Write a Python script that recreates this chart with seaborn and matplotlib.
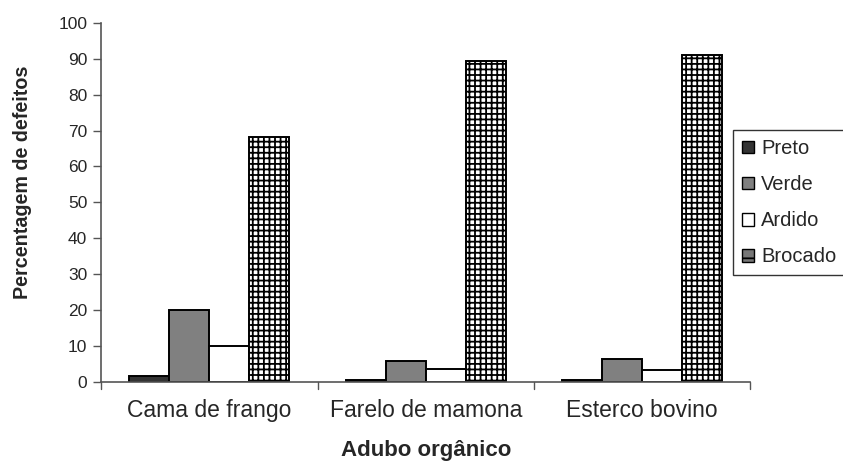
import matplotlib
matplotlib.use('Agg')
import matplotlib.pyplot as plt
from matplotlib.patches import Patch
import seaborn as sns
import pandas as pd

# Dados (percentagem de defeitos por adubo orgânico)
adubos = ['Cama de frango', 'Farelo de mamona', 'Esterco bovino']
defeitos = ['Preto', 'Verde', 'Ardido', 'Brocado']
preto = [1.6, 0.5, 0.5]
verde = [20.0, 5.8, 6.3]
ardido = [10.1, 3.7, 3.2]
brocado = [68.3, 89.5, 91.0]

cores = ['#333333', '#808080', '#ffffff', '#ffffff']

df = pd.DataFrame({
    'Adubo': adubos * 4,
    'Defeito': [d for d in defeitos for _ in adubos],
    'Valor': preto + verde + ardido + brocado,
})

sns.set_style('white')
plt.rcParams['font.family'] = ['Liberation Sans', 'DejaVu Sans']
plt.rcParams['hatch.linewidth'] = 1.3

fig = plt.figure(figsize=(8.43, 4.75), dpi=100)
ax = fig.add_axes([0.12, 0.196, 0.77, 0.756])

sns.barplot(data=df, x='Adubo', y='Valor', hue='Defeito', order=adubos,
            hue_order=defeitos, palette=cores, width=0.74, edgecolor='black',
            linewidth=1.4, saturation=1, ax=ax, legend=False)

# hachura quadriculada para Brocado
for barra in ax.containers[3]:
    barra.set_hatch('+++')

ax.set_ylim(0, 100)
ax.set_xlim(-0.5, 2.5)
ax.set_yticks(range(0, 101, 10))
ax.tick_params(axis='y', direction='out', length=6, width=1, color='#555555',
               labelsize=12.5, left=True, pad=4)
ax.tick_params(axis='x', length=0, labelsize=16.5, pad=12)
ax.set_xticks([0, 1, 2])
ax.set_xticklabels(adubos)
# ticks separadores entre categorias
for xs in [-0.5, 0.5, 1.5, 2.5]:
    ax.plot([xs, xs], [0, -2], color='#555555', lw=1, clip_on=False)

sns.despine(ax=ax)
for lado in ['left', 'bottom']:
    ax.spines[lado].set_color('#555555')
    ax.spines[lado].set_linewidth(1.2)

ax.set_xlabel('Adubo orgânico', fontsize=16, fontweight='bold', labelpad=13)
ax.set_ylabel('Percentagem de defeitos', fontsize=14.2, fontweight='bold')
ax.yaxis.set_label_coords(-0.106, 0.557)

# legenda manual
handles = []
for nome, cor in zip(defeitos, cores):
    h = Patch(facecolor=cor, edgecolor='black', linewidth=1)
    if nome == 'Brocado':
        h = Patch(facecolor='#777777', edgecolor='black', hatch='-', linewidth=1)
    handles.append(h)
leg = fig.legend(handles, defeitos, loc='upper left', bbox_to_anchor=(733 / 843, 1 - 130 / 475),
                 fontsize=14.5, frameon=True, fancybox=False, edgecolor='black',
                 handlelength=0.6, handleheight=0.6, handletextpad=0.35,
                 labelspacing=0.85, borderpad=0.45, borderaxespad=0)
leg.get_frame().set_linewidth(1)

fig.savefig('out.png', dpi=100)
